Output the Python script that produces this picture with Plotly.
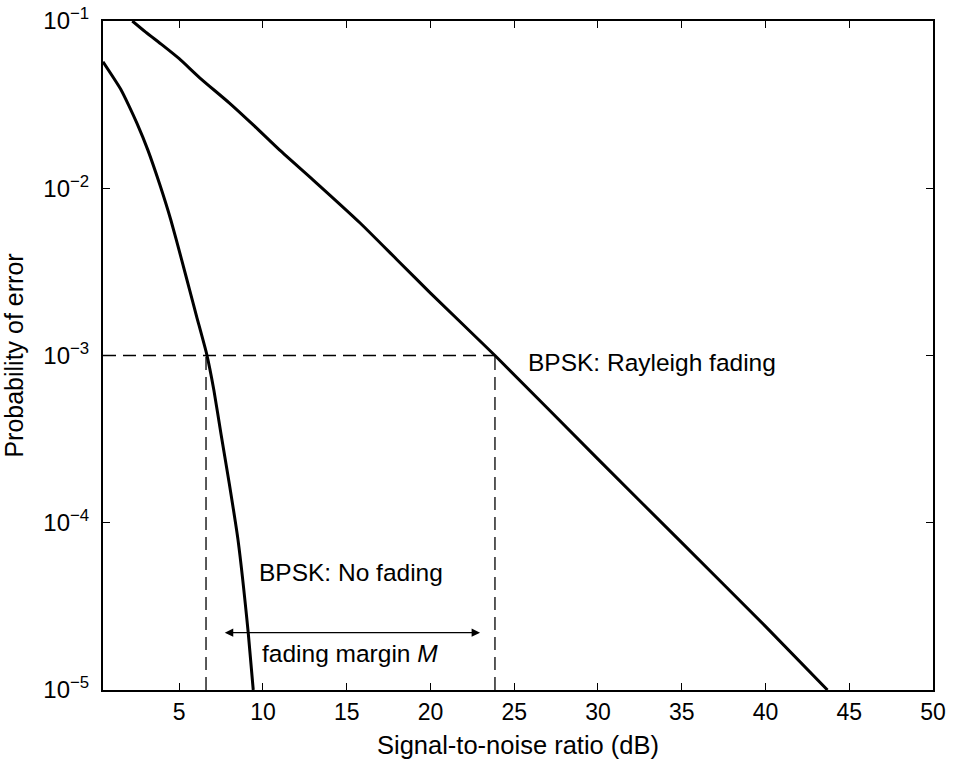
import plotly.graph_objects as go

# ---- data ----
snr_no_fading = [0.45, 1.5, 2.0, 2.48, 3.13, 3.85, 4.5, 5.15, 5.6, 6.04, 6.64, 7.07, 7.5, 8.0, 8.51, 9.12, 9.42]
pe_no_fading = [0.057, 0.0392, 0.0311, 0.0244, 0.0169, 0.01045, 0.00646, 0.00372, 0.00251, 0.00171, 0.00102,
                6.2e-4, 3.37e-4, 1.69e-4, 7.9e-5, 2.2e-5, 1.0e-5]

snr_rayleigh = [2.2, 3.0, 4.0, 5.0, 6.24, 8.0, 9.5, 11.0, 13.0, 15.8, 18.0, 20.0, 23.85, 30.0, 35.0, 40.0, 43.7]
pe_rayleigh = [0.1, 0.0858, 0.0717, 0.0595, 0.0456, 0.0323, 0.0235, 0.0169, 0.0112, 0.0062, 0.00374,
               0.00236, 0.001, 2.4e-4, 7.6e-5, 2.4e-5, 1.0e-5]

threshold_pe = 1e-3
snr_at_threshold_no_fading = 6.6
snr_at_threshold_rayleigh = 23.85
pe_floor = 1e-5

x_ticks = [5, 10, 15, 20, 25, 30, 35, 40, 45, 50]
y_tick_vals = [1e-5, 1e-4, 1e-3, 1e-2, 1e-1]
y_tick_text = ["10<sup>\u22125</sup>", "10<sup>\u22124</sup>", "10<sup>\u22123</sup>",
               "10<sup>\u22122</sup>", "10<sup>\u22121</sup>"]

x_min, x_max = 0.45, 50

FONT = "Liberation Sans, Arial, Helvetica, sans-serif"

fig = go.Figure()

dash_style = dict(color="black", width=1.3, dash="13px,7px")
# dashed guide lines
fig.add_trace(go.Scatter(x=[x_min, snr_at_threshold_rayleigh], y=[threshold_pe, threshold_pe],
                         mode="lines", line=dash_style, hoverinfo="skip", showlegend=False))
fig.add_trace(go.Scatter(x=[snr_at_threshold_no_fading, snr_at_threshold_no_fading], y=[pe_floor, threshold_pe],
                         mode="lines", line=dash_style, hoverinfo="skip", showlegend=False))
fig.add_trace(go.Scatter(x=[snr_at_threshold_rayleigh, snr_at_threshold_rayleigh], y=[pe_floor, threshold_pe],
                         mode="lines", line=dash_style, hoverinfo="skip", showlegend=False))

# curves
fig.add_trace(go.Scatter(x=snr_no_fading, y=pe_no_fading, mode="lines",
                         line=dict(color="black", width=3, shape="spline", smoothing=0.5),
                         name="BPSK: No fading", showlegend=False))
fig.add_trace(go.Scatter(x=snr_rayleigh, y=pe_rayleigh, mode="lines",
                         line=dict(color="black", width=3, shape="spline", smoothing=0.5),
                         name="BPSK: Rayleigh fading", showlegend=False))

ann_font = dict(size=24.5, color="black", family=FONT)
annotations = [
    dict(x=25.7, y=-3.04, xref="x", yref="y", text="BPSK: Rayleigh fading", showarrow=False,
         xanchor="left", yanchor="middle", font=ann_font),
    dict(x=9.65, y=-4.30, xref="x", yref="y", text="BPSK: No fading", showarrow=False,
         xanchor="left", yanchor="middle", font=ann_font),
    dict(x=9.85, y=-4.78, xref="x", yref="y", text="fading margin <i>M</i>", showarrow=False,
         xanchor="left", yanchor="middle", font=ann_font),
    dict(x=22.96, y=-4.657, xref="x", yref="y", ax=7.63, ay=-4.657, axref="x", ayref="y",
         text="", showarrow=True, arrowhead=2, startarrowhead=2, arrowside="end+start",
         arrowwidth=1.3, arrowsize=1.3, startarrowsize=1.3, arrowcolor="black"),
]

fig.update_layout(
    width=953, height=763,
    margin=dict(l=103, r=20, t=21, b=73, autoexpand=False),
    paper_bgcolor="white", plot_bgcolor="white",
    font=dict(family=FONT, color="black", size=22),
    annotations=annotations,
    showlegend=False,
)

fig.update_xaxes(
    range=[x_min, x_max], tickvals=x_ticks, ticks="inside", ticklen=7, tickwidth=1.3,
    tickcolor="black", showline=True, linecolor="black", linewidth=2, mirror="ticks",
    showgrid=False, zeroline=False, tickfont=dict(size=23, family=FONT),
    title=dict(text="Signal-to-noise ratio (dB)", font=dict(size=25.5, family=FONT), standoff=13),
    automargin=False,
)
fig.update_yaxes(
    type="log", range=[-5, -1], tickvals=y_tick_vals, ticktext=y_tick_text,
    ticks="inside", ticklen=7, tickwidth=1.3, tickcolor="black",
    showline=True, linecolor="black", linewidth=2, mirror="ticks",
    showgrid=False, zeroline=False, tickfont=dict(size=24, family=FONT), ticklabelstandoff=7,
    title=dict(text="Probability of error", font=dict(size=25, family=FONT), standoff=17),
    automargin=False,
)

fig.write_html("out.html")
